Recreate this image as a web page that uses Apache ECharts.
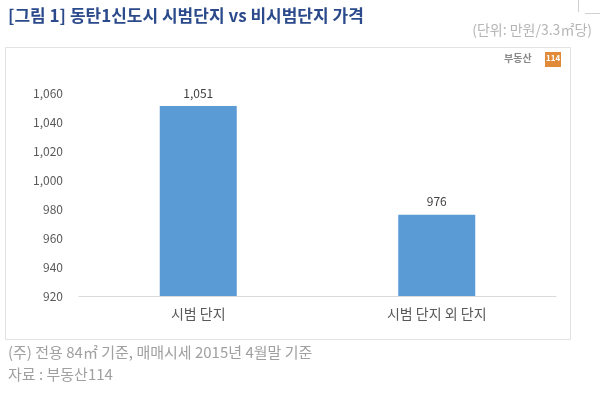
<!DOCTYPE html>
<html><head><meta charset="utf-8">
<script src="https://cdn.jsdelivr.net/npm/echarts@6/dist/echarts.min.js"></script>
<style>html,body{margin:0;padding:0;background:#fff}#c{width:600px;height:396px}</style>
</head><body><div id="c"></div>
<script>
const categories = ['시범 단지', '시범 단지 외 단지'];
const values = [1051, 976];
const yMin = 920, yMax = 1060, yStep = 20;
const titleText = '[그림 1] 동탄1신도시 시범단지 vs 비시범단지 가격';
const unitText = '(단위: 만원/3.3㎡당)';
const noteText = '(주) 전용 84㎡ 기준, 매매시세 2015년 4월말 기준';
const sourceText = '자료 : 부동산114';

const font = '"Noto Sans CJK KR", "Noto Sans", sans-serif';
const chart = echarts.init(document.getElementById('c'));
chart.setOption({
  animation: false,
  textStyle: { fontFamily: font },
  grid: { left: 79, right: 44, top: 93, bottom: 100 },
  xAxis: {
    type: 'category', data: categories,
    axisLine: { lineStyle: { color: '#d9d9d9', width: 1 } },
    axisTick: { show: false },
    axisLabel: { color: '#595959', fontSize: 14, margin: 11, fontFamily: font }
  },
  yAxis: {
    type: 'value', min: yMin, max: yMax, interval: yStep,
    axisLine: { show: false }, axisTick: { show: false }, splitLine: { show: false },
    axisLabel: { color: '#595959', fontSize: 12, margin: 16, fontFamily: font,
      formatter: v => v.toLocaleString('en-US') }
  },
  series: [{
    type: 'bar', data: values, barWidth: 77,
    itemStyle: { color: '#5b9bd5' },
    label: { show: true, position: 'top', distance: 7, color: '#404040', fontSize: 12, fontFamily: font,
      formatter: p => p.value.toLocaleString('en-US') }
  }],
  graphic: [
    { type: 'rect', shape: { x: 5.5, y: 47.5, width: 565, height: 292 }, style: { fill: 'none', stroke: '#e3e3e3', lineWidth: 1 }, z: -1 },
    { type: 'text', left: 8, top: 7, style: { text: titleText, fill: '#2b4a8b', font: 'bold 17px ' + font } },
    { type: 'text', right: 8, top: 23, style: { text: unitText, fill: '#b5b5b5', font: '14px ' + font } },
    { type: 'text', left: 504, top: 53, style: { text: '부동산', fill: '#8a8a8a', font: 'bold 10px ' + font } },
    { type: 'rect', shape: { x: 545, y: 52, width: 16, height: 15 }, style: { fill: '#e08a3a' } },
    { type: 'text', left: 546, top: 54, style: { text: '114', fill: '#fff', font: 'bold 8px ' + font } },
    { type: 'text', left: 8, top: 345, style: { text: noteText, fill: '#a0a0a0', font: '15px ' + font } },
    { type: 'text', left: 8, top: 367, style: { text: sourceText, fill: '#a0a0a0', font: '15px ' + font } },
    { type: 'line', shape: { x1: 578.5, y1: 0, x2: 578.5, y2: 12 }, style: { stroke: '#d0d0d0', lineWidth: 1 } },
    { type: 'line', shape: { x1: 585, y1: 13.5, x2: 600, y2: 13.5 }, style: { stroke: '#d0d0d0', lineWidth: 1 } }
  ]
});
</script></body></html>
